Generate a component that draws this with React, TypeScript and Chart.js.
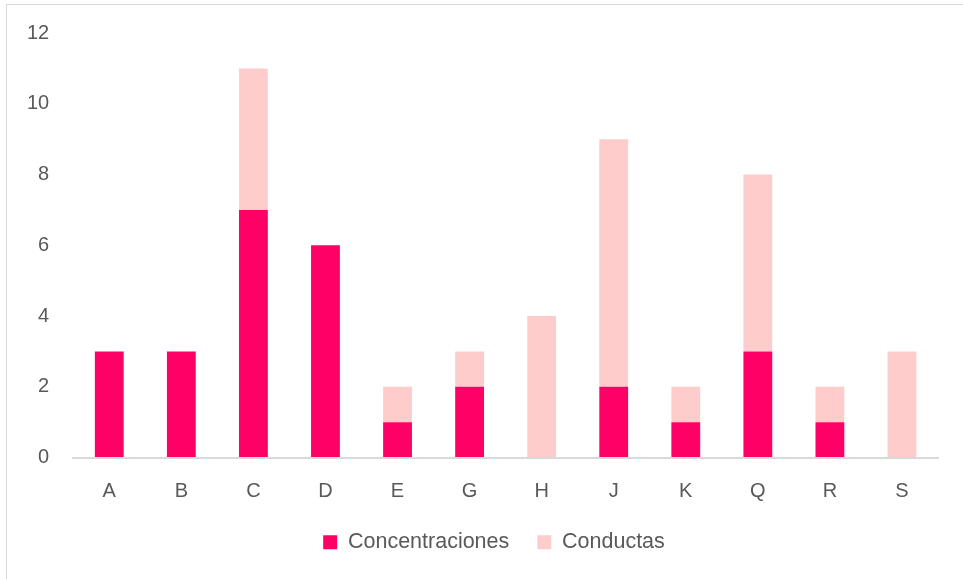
import React, { useEffect, useRef } from "react";
import { Chart, registerables } from "chart.js";

Chart.register(...registerables);

const categories = ["A", "B", "C", "D", "E", "G", "H", "J", "K", "Q", "R", "S"];
const concentraciones = [3, 3, 7, 6, 1, 2, 0, 2, 1, 3, 1, 0];
const conductas = [0, 0, 4, 0, 1, 1, 4, 7, 1, 5, 1, 3];
const yTicks = [0, 2, 4, 6, 8, 10, 12];

const FONT = "'Liberation Sans', Arial, sans-serif";

const legendShift = {
  id: "legendShift",
  afterLayout(chart: any) {
    if (chart.legend) {
      chart.legend.left += 13;
      chart.legend.right += 13;
    }
  },
};

export default function App() {
  const ref = useRef<HTMLCanvasElement | null>(null);

  useEffect(() => {
    document.body.style.margin = "0";
    const ctx = ref.current!.getContext("2d")!;
    const chart = new Chart(ctx, {
      type: "bar",
      data: {
        labels: categories,
        datasets: [
          {
            label: "Concentraciones",
            data: concentraciones,
            backgroundColor: "#FF0066",
            categoryPercentage: 1,
            barPercentage: 0.4,
          },
          {
            label: "Conductas",
            data: conductas,
            backgroundColor: "#FFCCCC",
            categoryPercentage: 1,
            barPercentage: 0.4,
          },
        ],
      },
      options: {
        animation: false,
        responsive: false,
        maintainAspectRatio: false,
        layout: { padding: { left: 24, right: 25, top: 33, bottom: 16 } },
        plugins: {
          legend: {
            position: "bottom",
            labels: {
              boxWidth: 14,
              boxHeight: 14,
              padding: 28,
              color: "#595959",
              font: { family: FONT, size: 21.5 },
            },
          },
          tooltip: { enabled: false },
        },
        scales: {
          x: {
            stacked: true,
            grid: { display: false, drawTicks: false },
            border: { display: true, color: "#D9D9D9", width: 2 },
            ticks: {
              color: "#595959",
              font: { family: FONT, size: 20 },
              padding: 22,
            },
            afterFit: (axis: any) => {
              axis.height -= 22;
            },
          },
          y: {
            stacked: true,
            min: 0,
            max: 12,
            afterBuildTicks: (axis: any) => {
              axis.ticks = yTicks.map((v) => ({ value: v }));
            },
            grid: {
              display: true,
              drawOnChartArea: false,
              drawTicks: true,
              tickLength: 21,
              color: "rgba(0,0,0,0)",
            },
            border: { display: false },
            ticks: {
              color: "#595959",
              font: { family: FONT, size: 20 },
              padding: 3,
            },
          },
        },
      },
      plugins: [legendShift],
    });
    return () => chart.destroy();
  }, []);

  return (
    <div style={{ position: "fixed", left: 0, top: 0, width: 963, height: 579, background: "#fff" }}>
      <div
        style={{
          position: "absolute",
          left: 6,
          top: 4,
          width: 970,
          height: 590,
          border: "1.5px solid #D9D9D9",
          boxSizing: "border-box",
        }}
      />
      <canvas ref={ref} width={963} height={579} style={{ position: "absolute", left: 0, top: 0 }} />
    </div>
  );
}
